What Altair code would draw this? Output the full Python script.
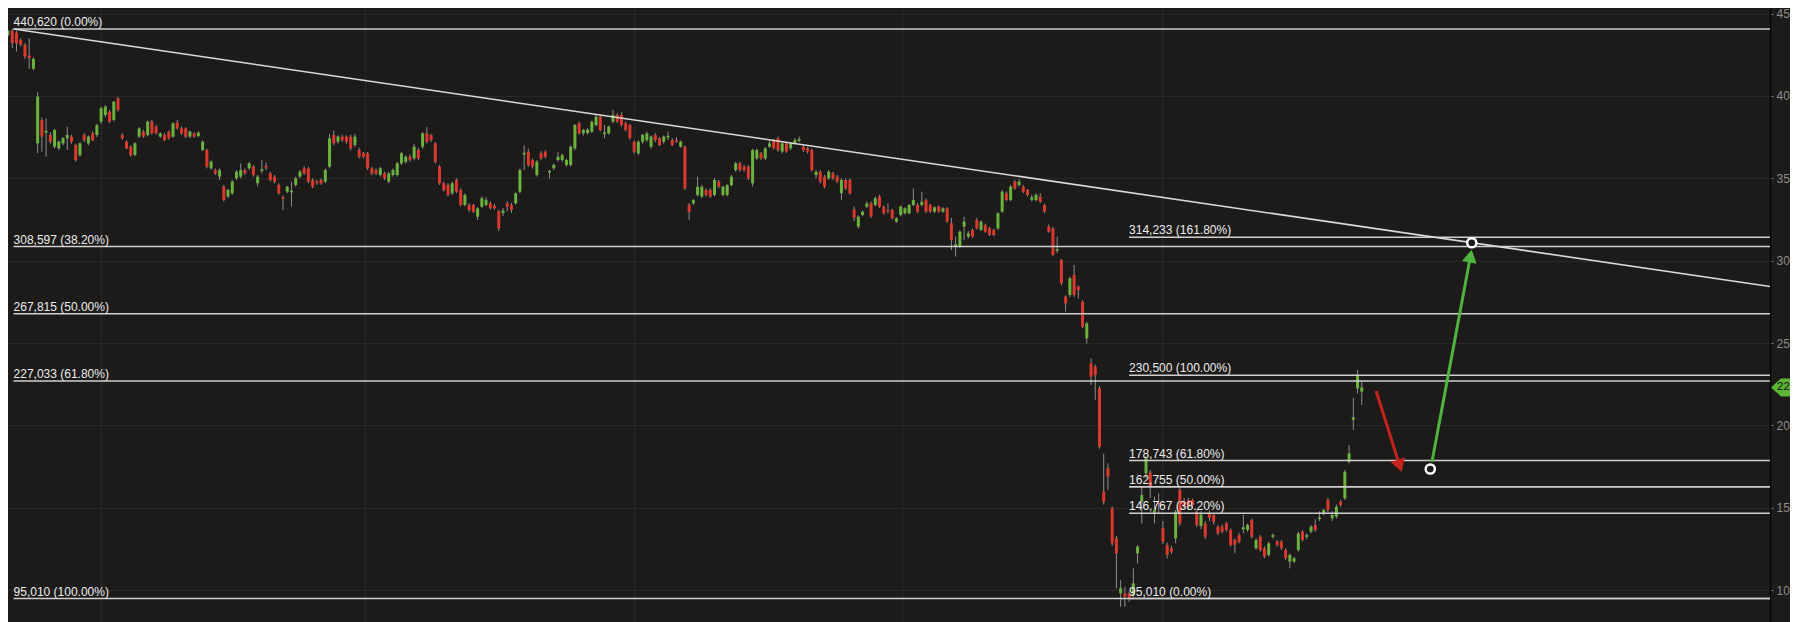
import altair as alt
import pandas as pd

# ---------------- price data (open, high, low, close), one row per trading day ----------------
seg_a = [
    (42.6, 43.7, 42.4, 43.55), (43.7, 44.0, 43.6, 43.95), (43.95, 44.06, 42.9, 43.2), (43.85, 43.95, 42.7, 43.2),
    (43.4, 43.5, 43.0, 43.1), (43.1, 43.2, 42.25, 42.4), (42.45, 43.5, 41.65, 42.3), (41.65, 42.35, 41.55, 42.25),
    (37.12, 40.26, 36.52, 39.96), (38.54, 38.7, 36.62, 37.53), (37.78, 38.64, 36.31, 37.88), (37.63, 37.8, 37.1, 37.22),
    (36.92, 38.0, 36.8, 37.93), (36.82, 37.3, 36.7, 37.22), (37.12, 37.5, 37.0, 37.43), (37.43, 38.13, 36.72, 37.63),
    (37.53, 37.65, 37.1, 37.22), (37.02, 37.1, 36.0, 36.11), (36.41, 37.2, 36.3, 37.12), (37.63, 37.75, 37.2, 37.32),
    (37.12, 37.6, 37.0, 37.53), (37.73, 37.85, 37.25, 37.32), (37.63, 38.3, 37.5, 38.23), (38.44, 39.35, 38.3, 39.25),
    (38.84, 39.45, 38.7, 39.35), (39.04, 39.15, 38.35, 38.44), (38.54, 39.7, 38.45, 39.65), (39.85, 39.95, 39.05, 39.15),
    (37.63, 37.75, 37.35, 37.43), (37.22, 37.3, 36.75, 36.82), (36.92, 37.0, 36.3, 36.41), (36.41, 37.2, 36.35, 37.12),
    (37.53, 38.1, 37.45, 38.03), (37.83, 37.95, 37.45, 37.53), (37.63, 38.5, 37.55, 38.44), (38.44, 38.55, 37.65, 37.73),
    (38.13, 38.25, 37.65, 37.73), (37.53, 37.8, 37.45, 37.73), (37.63, 37.75, 37.25, 37.32), (37.83, 37.9, 37.35, 37.43),
    (37.53, 38.4, 37.45, 38.34), (38.38, 38.55, 37.95, 38.03), (38.03, 38.15, 37.65, 37.73), (38.03, 38.1, 37.45, 37.53),
    (37.53, 37.9, 37.45, 37.83), (37.73, 37.8, 37.45, 37.53), (37.57, 37.85, 37.5, 37.77), (36.72, 37.3, 36.65, 37.22),
    (36.72, 36.8, 35.6, 35.71), (35.61, 36.1, 35.5, 36.01), (35.5, 35.6, 35.2, 35.3), (35.1, 35.6, 34.9, 35.5),
    (34.49, 34.6, 33.6, 33.68), (33.89, 34.35, 33.8, 34.29), (34.09, 34.9, 34.0, 34.8), (35.0, 35.5, 34.9, 35.4),
    (35.1, 35.9, 35.0, 35.5), (35.5, 35.6, 35.2, 35.3), (35.61, 36.0, 35.5, 35.91), (35.71, 35.8, 35.1, 35.2),
    (34.7, 35.2, 34.5, 35.1), (35.45, 36.1, 35.3, 35.55), (35.75, 35.95, 35.5, 35.65), (35.3, 35.4, 34.8, 34.9),
    (35.1, 35.2, 34.7, 34.8), (34.59, 34.7, 34.0, 34.09), (33.85, 33.95, 33.08, 33.75), (34.19, 34.55, 34.1, 34.49),
    (34.15, 34.8, 33.28, 34.25), (34.59, 35.1, 34.5, 35.0), (35.1, 35.5, 35.0, 35.4), (35.61, 35.75, 35.2, 35.3),
    (35.61, 35.7, 34.7, 34.8), (34.9, 35.0, 34.4, 34.49), (34.8, 34.9, 34.6, 34.7), (34.9, 35.0, 34.6, 34.7),
    (34.8, 35.6, 34.7, 35.5), (35.71, 37.7, 35.6, 37.43), (37.63, 37.9, 37.0, 37.12), (37.22, 37.6, 37.1, 37.53),
    (37.53, 37.65, 37.2, 37.32), (37.53, 37.6, 37.1, 37.22), (37.53, 37.65, 36.7, 36.82), (37.02, 37.7, 36.9, 37.53),
    (36.72, 36.85, 36.2, 36.31), (36.52, 36.6, 36.2, 36.31), (36.52, 36.6, 35.5, 35.61), (35.61, 35.7, 35.2, 35.3),
    (35.5, 35.6, 35.2, 35.3), (35.2, 35.7, 35.1, 35.61), (35.3, 35.4, 34.9, 35.0), (34.8, 35.4, 34.7, 35.3),
    (35.2, 35.6, 35.1, 35.5), (35.2, 36.0, 35.1, 35.91), (35.91, 36.6, 35.8, 36.52), (36.01, 36.4, 35.9, 36.31),
    (36.31, 36.45, 36.0, 36.11), (36.21, 37.1, 36.1, 36.92), (36.72, 36.85, 36.1, 36.21), (36.92, 37.8, 36.8, 37.73),
    (37.73, 38.1, 37.1, 37.22), (37.63, 37.7, 37.2, 37.32), (37.12, 37.2, 35.9, 36.01), (35.71, 35.8, 34.6, 34.7),
    (34.7, 34.8, 34.2, 34.29), (34.59, 34.7, 33.9, 33.99), (34.09, 34.8, 34.0, 34.7), (34.9, 35.0, 34.1, 34.19),
    (34.29, 34.4, 33.3, 33.38), (33.38, 34.1, 33.3, 33.99), (33.38, 33.5, 32.95, 33.08), (33.38, 33.45, 32.9, 32.97),
    (32.67, 33.25, 32.47, 33.18), (33.28, 33.9, 33.2, 33.79), (33.38, 33.85, 33.3, 33.68), (33.48, 33.6, 33.1, 33.18),
    (33.32, 33.45, 33.1, 33.18), (33.0, 33.1, 31.8, 31.96), (32.9, 33.2, 32.7, 33.05), (33.48, 33.6, 33.0, 33.28),
    (33.38, 33.5, 32.9, 33.08), (33.48, 34.15, 33.4, 34.09), (34.19, 35.6, 34.1, 35.5), (36.45, 37.0, 35.5, 36.55),
    (36.62, 36.8, 35.7, 35.81), (36.11, 36.2, 35.6, 35.71), (35.2, 36.1, 35.1, 36.01), (36.52, 36.65, 36.1, 36.21),
    (36.62, 36.7, 36.2, 36.31), (35.35, 35.5, 35.0, 35.45), (35.61, 35.9, 35.5, 35.81), (36.11, 36.6, 36.0, 36.31),
    (36.11, 36.5, 36.0, 36.41), (35.81, 36.2, 35.7, 36.11), (35.81, 37.0, 35.7, 36.92), (36.82, 38.3, 36.7, 38.23),
    (38.34, 38.45, 37.65, 37.73), (37.73, 38.0, 37.6, 37.93), (37.75, 38.05, 37.65, 37.95), (37.83, 38.5, 37.75, 38.44),
    (38.23, 38.85, 38.15, 38.74),
]
seg_b = [
    (38.74, 38.85, 37.85, 37.93), (37.68, 38.23, 37.43, 37.78), (37.73, 38.2, 37.65, 38.13), (38.44, 39.15, 38.35, 38.84),
    (38.84, 38.95, 38.35, 38.44), (38.84, 39.0, 38.15, 38.23), (38.34, 38.45, 37.85, 37.93), (38.23, 38.3, 37.35, 37.43),
    (37.22, 37.3, 36.5, 36.62), (36.52, 37.3, 36.4, 37.22), (37.22, 37.7, 37.1, 37.63), (37.32, 37.85, 37.2, 37.73),
    (36.92, 37.6, 36.8, 37.53), (37.63, 37.75, 37.2, 37.32), (37.43, 37.5, 36.95, 37.02), (37.22, 37.6, 37.1, 37.53),
    (37.48, 37.83, 37.32, 37.58), (37.32, 37.45, 36.95, 37.02), (37.32, 37.5, 37.15, 37.22), (36.92, 37.3, 36.85, 37.22),
    (36.92, 37.0, 34.3, 34.39), (33.38, 33.5, 32.47, 32.97), (33.48, 33.75, 33.4, 33.68), (33.99, 35.1, 33.9, 34.49),
    (33.89, 34.6, 33.8, 34.49), (34.29, 34.4, 33.9, 33.99), (34.29, 34.4, 33.8, 33.89), (33.99, 35.0, 33.9, 34.9),
    (34.8, 34.9, 34.4, 34.49), (33.99, 34.55, 33.9, 34.49), (33.99, 34.65, 33.9, 34.59), (34.59, 35.2, 34.5, 35.1),
    (35.5, 36.0, 35.4, 35.91), (35.91, 36.0, 35.4, 35.5), (35.71, 35.8, 35.4, 35.5), (35.71, 35.8, 34.9, 35.0),
    (34.7, 36.8, 34.5, 36.72), (36.21, 36.8, 36.1, 36.72), (36.52, 36.6, 36.1, 36.21), (36.21, 36.9, 36.1, 36.82),
    (36.92, 37.3, 36.85, 37.12), (37.32, 37.4, 36.75, 36.82), (37.43, 37.55, 36.6, 36.72), (36.62, 37.2, 36.5, 37.12),
    (37.12, 37.2, 36.55, 36.62), (36.82, 37.2, 36.7, 37.12), (37.12, 37.45, 37.05, 37.32), (37.28, 37.55, 37.2, 37.38),
    (36.92, 37.05, 36.6, 36.72), (36.82, 36.9, 36.5, 36.62), (36.72, 36.8, 35.4, 35.5), (35.2, 35.5, 35.0, 35.4),
    (35.4, 35.5, 34.7, 34.8), (35.1, 35.2, 34.4, 34.49), (35.0, 35.5, 34.9, 35.4), (35.3, 35.4, 34.9, 35.0),
    (35.1, 35.2, 34.7, 34.8), (34.09, 35.0, 33.7, 34.9), (34.9, 35.0, 34.3, 34.39), (34.9, 35.0, 34.0, 34.09),
    (33.1, 33.3, 32.4, 32.6),
]
seg_c = [
    (32.07, 32.75, 31.95, 32.67), (32.78, 33.05, 32.7, 32.98), (33.28, 33.6, 33.2, 33.48), (33.48, 33.6, 32.6, 32.67),
    (33.38, 33.9, 33.3, 33.79), (33.89, 34.0, 33.2, 33.28), (33.28, 33.35, 32.8, 32.88), (33.08, 33.48, 32.88, 33.0),
    (33.08, 33.15, 32.5, 32.57), (32.37, 32.65, 32.3, 32.57), (32.78, 33.35, 32.7, 33.28), (32.88, 33.25, 32.8, 33.18),
    (32.88, 33.45, 32.8, 33.38), (33.38, 34.39, 33.3, 33.68), (33.38, 33.5, 32.9, 32.98), (33.38, 34.19, 33.3, 33.58),
    (33.68, 33.8, 32.9, 32.98), (33.38, 33.45, 32.9, 32.98), (32.98, 33.3, 32.9, 33.24), (33.28, 33.35, 32.9, 32.98),
    (32.98, 33.25, 32.9, 33.18), (33.18, 33.25, 32.3, 32.37), (32.27, 32.6, 30.65, 31.26), (30.9, 31.46, 30.25, 31.0),
    (30.85, 31.85, 30.75, 31.76), (32.07, 32.67, 31.26, 32.37), (31.46, 31.8, 31.35, 31.66), (31.86, 31.95, 31.4, 31.46),
    (32.47, 32.6, 31.9, 31.96), (31.86, 32.45, 31.8, 32.37), (32.17, 32.25, 31.7, 31.76), (31.96, 32.05, 31.5, 31.56),
    (31.86, 31.95, 31.5, 31.56), (31.96, 32.95, 31.85, 32.88), (32.98, 34.3, 32.9, 34.19), (34.09, 34.2, 33.6, 33.68),
    (33.68, 34.6, 33.6, 34.49), (34.8, 34.9, 34.3, 34.39), (34.59, 34.95, 34.5, 34.8), (34.49, 34.6, 34.1, 34.19),
    (34.29, 34.35, 33.9, 33.99), (33.7, 34.0, 33.6, 33.85), (33.68, 34.1, 33.6, 33.99), (33.89, 34.1, 33.5, 33.58),
    (33.38, 33.45, 32.9, 32.98), (32.07, 32.2, 31.7, 31.76), (31.96, 32.05, 30.3, 30.35), (30.6, 31.46, 30.45, 30.7),
    (30.04, 30.1, 28.5, 28.63), (27.82, 27.9, 26.91, 27.41), (27.92, 29.0, 27.8, 28.93), (29.13, 29.74, 27.8, 27.92),
    (28.42, 28.5, 27.7, 28.22), (27.51, 27.6, 25.9, 25.99), (25.29, 26.3, 24.98, 26.2), (23.77, 24.08, 22.46, 22.96),
    (23.57, 23.7, 21.55, 23.06),
]
seg_d = [
    (22.26, 22.4, 18.6, 18.72), (15.98, 18.3, 15.2, 15.38), (17.4, 17.7, 16.1, 16.9), (14.97, 15.1, 12.7, 12.85),
    (13.15, 13.3, 10.12, 12.24), (9.81, 10.62, 9.0, 10.12), (9.81, 10.22, 9.0, 9.61), (9.81, 9.92, 9.3, 9.51),
    (9.71, 11.33, 9.6, 10.42), (12.24, 12.75, 11.63, 12.65), (15.38, 16.29, 14.06, 15.78), (17.1, 18.11, 16.8, 18.01),
    (17.14, 17.3, 15.58, 16.29), (14.7, 15.68, 14.06, 14.85), (15.32, 15.88, 14.67, 15.22), (13.76, 14.2, 12.8, 12.95),
    (12.75, 12.9, 11.94, 12.14), (12.55, 12.7, 12.2, 12.34), (13.15, 14.87, 12.85, 14.77), (16.08, 16.2, 13.9, 14.06),
    (15.38, 15.6, 14.9, 15.07), (15.48, 15.6, 14.95, 15.07), (15.48, 15.55, 15.0, 15.17), (14.77, 14.9, 13.85, 13.96),
    (13.9, 14.8, 13.7, 14.6), (14.06, 14.2, 13.1, 13.25), (14.7, 14.85, 14.2, 14.4), (14.57, 14.65, 14.0, 14.16),
    (13.86, 13.95, 13.35, 13.45),
]
seg_e = [
    (13.86, 14.0, 13.45, 13.56), (14.06, 14.15, 13.55, 13.66), (13.66, 13.75, 12.65, 12.75), (13.05, 13.15, 12.24, 12.75),
    (13.35, 13.5, 12.85, 12.95), (13.7, 14.57, 13.45, 13.82), (13.66, 14.05, 13.55, 13.96), (14.26, 14.35, 13.15, 13.25),
    (12.55, 13.15, 12.45, 13.05), (13.25, 13.35, 12.35, 12.44), (12.55, 12.65, 11.95, 12.04), (12.14, 12.95, 12.05, 12.85),
    (13.25, 13.45, 13.15, 13.35), (12.95, 13.05, 12.65, 12.75), (12.95, 13.05, 12.45, 12.55), (12.44, 12.55, 11.85, 11.94),
    (11.74, 12.24, 11.33, 12.14), (11.74, 12.04, 11.65, 11.94), (12.44, 13.55, 12.35, 13.45), (13.56, 13.65, 12.95, 13.05),
    (13.24, 13.45, 13.1, 13.34), (13.56, 13.95, 13.45, 13.86), (13.96, 14.3, 13.55, 13.66), (14.32, 14.8, 14.2, 14.42),
    (14.67, 14.95, 14.55, 14.87), (15.48, 15.6, 14.75, 14.87), (14.37, 14.8, 14.2, 14.57), (14.47, 15.2, 14.35, 15.07),
    (15.38, 15.48, 15.07, 15.17), (15.58, 17.3, 15.48, 17.2), (17.8, 18.82, 17.7, 18.31), (20.35, 21.67, 19.73, 20.5),
    (22.25, 23.37, 21.95, 23.06), (22.05, 22.66, 21.24, 22.31),
]

# Fibonacci retracement / extension levels
fib_left_prices = [44.062, 30.8597, 26.7815, 22.7033, 9.501]
fib_left_texts = ["440,620 (0.00%)", "308,597 (38.20%)", "267,815 (50.00%)", "227,033 (61.80%)", "95,010 (100.00%)"]
fib_right_prices = [31.4233, 23.05, 17.8743, 16.2755, 14.6767, 9.501]
fib_right_texts = ["314,233 (161.80%)", "230,500 (100.00%)", "178,743 (61.80%)", "162,755 (50.00%)",
                   "146,767 (38.20%)", "95,010 (0.00%)"]
fib_left_start_day = 2.3
fib_right_start_day = 266.0

# trendline through the highs
trend_days = [2.3, 417.5]
trend_prices = [44.06, 28.44]

# scenario annotation: pullback (red) then rally (green) between two marked points
point_days = [337.2, 347.0]
point_prices = [17.36, 31.09]
arrow_start_days = [324.4, 337.6]
arrow_start_prices = [22.09, 17.80]
arrow_end_days = [329.97, 346.7]
arrow_end_prices = [17.55, 30.285]
arrow_colors = ["#c4241c", "#4fb53e"]
arrow_angles = [162.5, 10.6]

grid_days = [23.0, 85.4, 149.0, 212.3, 273.8]
price_ticks = [10, 15, 20, 25, 30, 35, 40, 45]
last_price_text = "22"

X_DOMAIN = [0.993, 417.5]
Y_DOMAIN = [8.075, 45.336]
BG = "#1c1b1a"
GRID = "#292827"
UP = "#6cb23e"
DOWN = "#db392d"
LINE = "#cfcfcf"

# ---------------- tables ----------------
ohlc = seg_a + seg_b + seg_c + seg_d + seg_e
candles = pd.DataFrame(ohlc, columns=["open", "high", "low", "close"])
candles["day"] = list(range(len(ohlc)))
candles["dir"] = ["up" if c >= o else "down" for o, c in zip(candles["open"], candles["close"])]

fib = pd.DataFrame({
    "price": fib_left_prices + fib_right_prices,
    "text": fib_left_texts + fib_right_texts,
    "start": [fib_left_start_day] * len(fib_left_prices) + [fib_right_start_day] * len(fib_right_prices),
    "end": [X_DOMAIN[1]] * (len(fib_left_prices) + len(fib_right_prices)),
})
trend = pd.DataFrame({"day": trend_days, "price": trend_prices})
points = pd.DataFrame({"day": point_days, "price": point_prices})
arrows = pd.DataFrame({"d0": arrow_start_days, "p0": arrow_start_prices, "d1": arrow_end_days,
                       "p1": arrow_end_prices, "color": arrow_colors, "angle": arrow_angles})
last = pd.DataFrame({"price": [candles["close"].iloc[-1]], "text": [last_price_text]})

W, H = 1762, 614
x_scale = alt.Scale(domain=X_DOMAIN, nice=False, zero=False)
y_scale = alt.Scale(domain=Y_DOMAIN, nice=False, zero=False)
x_axis = alt.Axis(values=grid_days, labels=False, ticks=False, domain=False, grid=True,
                  gridColor=GRID, gridWidth=1, title=None)
y_axis = alt.Axis(orient="right", values=price_ticks, title=None, grid=True, gridColor=GRID, gridWidth=1,
                  labelColor="#8c8c8c", labelFontSize=12, labelFont="Liberation Sans", tickColor="#6e6e6e",
                  tickSize=3, domainColor="#050505", domainWidth=1.5, labelPadding=3)


def X(f):
    return alt.X(f, type="quantitative", scale=x_scale, axis=x_axis)


def Y(f):
    return alt.Y(f, type="quantitative", scale=y_scale, axis=y_axis)


wicks = alt.Chart(candles).mark_rule(color="#8e8e8e", strokeWidth=1).encode(
    x=X("day"), y=Y("low"), y2="high")
bodies = alt.Chart(candles).mark_rule(strokeWidth=3, strokeCap="butt").encode(
    x=X("day"), y=Y("open"), y2="close",
    color=alt.Color("dir:N", scale=alt.Scale(domain=["up", "down"], range=[UP, DOWN]), legend=None))

fib_lines = alt.Chart(fib).mark_rule(color=LINE, strokeWidth=1.6).encode(
    x=X("start"), x2="end", y=Y("price"))
fib_labels = alt.Chart(fib).mark_text(align="left", baseline="alphabetic", dy=-3, fontSize=12,
                                      font="Liberation Sans", color="#ececec").encode(
    x=X("start"), y=Y("price"), text="text:N")

trendline = alt.Chart(trend).mark_line(color="#dadada", strokeWidth=1.6).encode(x=X("day"), y=Y("price"))

arrow_lines = alt.Chart(arrows).mark_rule(strokeWidth=3).encode(
    x=X("d0"), y=Y("p0"), x2="d1", y2="p1", color=alt.Color("color:N", scale=None))
arrow_heads = alt.Chart(arrows).mark_point(shape="triangle-up", filled=True, size=220, opacity=1).encode(
    x=X("d1"), y=Y("p1"), color=alt.Color("color:N", scale=None), angle=alt.Angle("angle:Q", scale=None))

circles = alt.Chart(points).mark_point(shape="circle", filled=True, fill=BG, stroke="#ffffff",
                                       strokeWidth=2.5, size=85, opacity=1).encode(x=X("day"), y=Y("price"))

# current-price tag in the axis gutter
tag = alt.Chart(last).mark_point(shape="M-1,0L-0.6,-0.36L1,-0.36L1,0.36L-0.6,0.36Z", filled=True,
                                 color="#5db535", size=2500, opacity=1).encode(
    x=alt.value(W + 26), y=Y("price"))
tag_text = alt.Chart(last).mark_text(align="left", baseline="middle", fontSize=11.5, font="Liberation Sans",
                                     color="#111111").encode(x=alt.value(W + 7), y=Y("price"), text="text:N")

chart = alt.layer(
    wicks, bodies, fib_lines, trendline, fib_labels, arrow_lines, arrow_heads, circles, tag, tag_text
).properties(
    width=W, height=H, background=BG,
    autosize=alt.AutoSizeParams(type="none"),
    padding={"left": 0, "top": 0, "right": 20, "bottom": 0},
).configure_view(strokeWidth=0)

chart.save("out.html", embed_options={"renderer": "svg", "actions": False})
